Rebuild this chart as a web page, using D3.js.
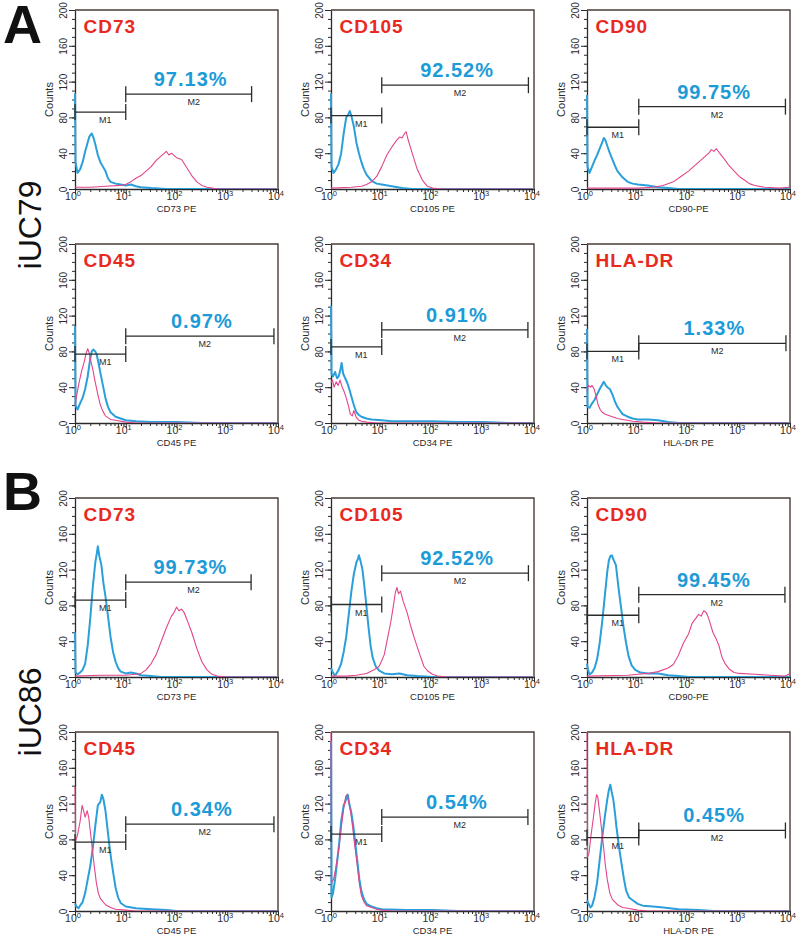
<!DOCTYPE html>
<html><head><meta charset="utf-8">
<script src="https://cdn.jsdelivr.net/npm/d3@7"></script>
<style>
body{margin:0;background:#fff;}
svg{display:block;font-family:"Liberation Sans",Arial,sans-serif;}
</style></head>
<body><svg id="c" width="800" height="942"></svg>
<script>
// ---------- data ----------
const groupLetters = ["A", "B"];
const cellLines = ["iUC79", "iUC86"];
const markers = ["CD73", "CD105", "CD90", "CD45", "CD34", "HLA-DR"];
const axisTitles = ["CD73 PE", "CD105 PE", "CD90-PE", "CD45 PE", "CD34 PE", "HLA-DR PE"];
const percentA = ["97.13%", "92.52%", "99.75%", "0.97%", "0.91%", "1.33%"];
const percentB = ["99.73%", "92.52%", "99.45%", "0.34%", "0.54%", "0.45%"];
// marker gates (counts level, log10 end)
const m1LevelA = [86, 82, 69, 77, 85, 80];
const m2LevelA = [106, 116, 92, 97, 104, 89];
const m1LevelB = [86, 81, 69, 77, 86, 82];
const m2LevelB = [106, 116, 92, 97, 105, 90];
const m1End = [1.0, 1.0, 1.02, 1.0, 1.0, 1.02];
const m2EndA = [3.48, 3.89, 3.91, 3.92, 3.88, 3.92];
const m2EndB = [3.47, 3.89, 3.90, 3.92, 3.88, 3.91];
const yTicks = [0, 40, 80, 120, 160, 200];
const xTicks = [1, 10, 100, 1000, 10000];
const xTickExp = ["0", "1", "2", "3", "4"];

// histograms: [log10 fluorescence, counts]
const a_cd73_blue = [[0,107],[0.01,30],[0.05,18],[0.1,22],[0.15,30],[0.2,42],[0.25,52],[0.28,58],[0.3,60],[0.33,62],[0.36,58],[0.4,50],[0.45,38],[0.5,30],[0.55,25],[0.6,20],[0.65,12],[0.7,8],[0.8,6],[0.9,5],[1.0,4],[1.1,5],[1.2,3],[1.3,2],[1.5,1],[1.8,0],[4,0]];
const a_cd73_pink = [[0,2],[0.3,2],[0.6,3],[0.9,4],[1.0,5],[1.1,8],[1.2,12],[1.3,15],[1.4,20],[1.5,25],[1.6,32],[1.7,37],[1.8,42],[1.85,38],[1.9,40],[2.0,35],[2.1,33],[2.2,24],[2.3,15],[2.4,8],[2.5,4],[2.6,2],[2.7,1],[2.8,0],[4,0]];
const a_cd105_blue = [[0,107],[0.01,25],[0.05,18],[0.1,22],[0.15,28],[0.2,40],[0.25,62],[0.3,80],[0.33,82],[0.37,87],[0.4,82],[0.45,70],[0.5,52],[0.55,40],[0.6,30],[0.65,22],[0.7,16],[0.8,9],[0.9,6],[1.0,5],[1.2,3],[1.4,1],[1.6,0],[4,0]];
const a_cd105_pink = [[0,1],[0.4,2],[0.6,3],[0.7,5],[0.8,8],[0.9,14],[1.0,25],[1.1,38],[1.2,47],[1.3,55],[1.35,58],[1.4,57],[1.45,62],[1.48,64],[1.52,55],[1.6,40],[1.7,22],[1.8,10],[1.9,3],[2.0,1],[2.2,0],[4,0]];
const a_cd90_blue = [[0,105],[0.01,25],[0.05,18],[0.1,25],[0.15,32],[0.2,38],[0.25,45],[0.3,52],[0.33,57],[0.36,55],[0.4,48],[0.45,40],[0.5,33],[0.55,26],[0.6,20],[0.7,13],[0.8,8],[0.9,6],[1.0,5],[1.2,4],[1.4,2],[1.6,1],[1.8,0],[4,0]];
const a_cd90_pink = [[0,1],[1.0,1],[1.3,2],[1.5,4],[1.7,8],[1.85,14],[2.0,20],[2.1,25],[2.2,30],[2.3,35],[2.4,40],[2.45,44],[2.5,42],[2.55,45],[2.6,41],[2.7,34],[2.8,26],[2.9,20],[3.0,14],[3.1,10],[3.2,6],[3.3,4],[3.5,2],[3.8,1],[3.98,2],[4,7]];
const a_cd45_blue = [[0,108],[0.01,20],[0.05,15],[0.1,22],[0.15,28],[0.2,38],[0.25,52],[0.3,72],[0.33,80],[0.36,82],[0.4,80],[0.43,76],[0.47,65],[0.5,56],[0.55,42],[0.6,28],[0.65,18],[0.7,12],[0.8,7],[0.9,5],[1.0,3],[1.2,2],[1.5,1],[2.0,1],[2.5,0],[4,0]];
const a_cd45_pink = [[0,20],[0.03,30],[0.08,45],[0.13,58],[0.18,68],[0.22,78],[0.25,83],[0.28,78],[0.31,70],[0.35,60],[0.4,45],[0.45,32],[0.5,20],[0.55,13],[0.6,8],[0.7,4],[0.8,3],[1.0,1],[1.2,0],[4,0]];
const a_cd34_blue = [[0,131],[0.01,55],[0.04,52],[0.08,57],[0.12,50],[0.15,52],[0.18,58],[0.21,67],[0.24,55],[0.28,50],[0.32,45],[0.36,38],[0.4,30],[0.45,20],[0.5,12],[0.55,9],[0.6,7],[0.7,5],[0.8,4],[1.0,3],[1.2,2],[1.5,2],[2.0,2],[2.5,1],[3.0,1],[3.5,0],[4,0]];
const a_cd34_pink = [[0,45],[0.03,48],[0.06,40],[0.1,46],[0.14,42],[0.18,48],[0.22,40],[0.26,35],[0.3,28],[0.35,18],[0.38,10],[0.42,8],[0.45,14],[0.5,6],[0.55,3],[0.6,2],[0.7,1],[0.9,0],[4,0]];
const a_hla_blue = [[0,105],[0.01,18],[0.05,17],[0.1,22],[0.15,26],[0.2,32],[0.25,38],[0.3,43],[0.33,46],[0.36,43],[0.4,40],[0.45,38],[0.5,32],[0.55,24],[0.6,18],[0.65,14],[0.7,10],[0.8,7],[0.9,5],[1.0,4],[1.2,4],[1.4,3],[1.6,1],[1.8,0],[4,0]];
const a_hla_pink = [[0,35],[0.03,42],[0.07,40],[0.1,42],[0.14,38],[0.18,30],[0.22,20],[0.26,15],[0.3,12],[0.35,10],[0.4,9],[0.5,7],[0.6,5],[0.7,4],[0.8,3],[0.9,2],[1.1,1],[1.4,0],[4,0]];
const b_cd73_blue = [[0,50],[0.01,5],[0.05,3],[0.1,5],[0.15,8],[0.2,15],[0.25,35],[0.3,65],[0.35,100],[0.4,128],[0.43,138],[0.45,146],[0.48,135],[0.52,125],[0.56,105],[0.6,90],[0.65,68],[0.7,45],[0.75,28],[0.8,17],[0.85,10],[0.9,6],[1.0,4],[1.1,5],[1.2,4],[1.3,2],[1.5,1],[1.7,0],[4,0]];
const b_cd73_pink = [[0,1],[0.5,2],[1.0,2],[1.2,3],[1.3,4],[1.4,8],[1.5,15],[1.6,25],[1.7,40],[1.8,55],[1.9,68],[1.95,72],[2.0,78],[2.05,74],[2.1,76],[2.15,72],[2.2,65],[2.3,50],[2.4,32],[2.5,17],[2.6,8],[2.7,3],[2.8,1],[3.0,0],[4,0]];
const b_cd105_blue = [[0,10],[0.03,6],[0.07,2],[0.1,3],[0.15,8],[0.2,15],[0.25,28],[0.3,45],[0.35,70],[0.4,95],[0.45,115],[0.5,128],[0.53,132],[0.55,136],[0.58,130],[0.62,120],[0.66,100],[0.7,78],[0.74,55],[0.78,35],[0.82,22],[0.88,12],[0.95,7],[1.05,4],[1.2,3],[1.35,4],[1.5,2],[1.7,1],[2.0,0],[4,0]];
const b_cd105_pink = [[0,1],[0.3,1],[0.5,2],[0.7,4],[0.85,8],[0.95,12],[1.05,25],[1.12,45],[1.18,62],[1.23,80],[1.27,95],[1.3,100],[1.33,93],[1.37,96],[1.42,85],[1.5,72],[1.58,55],[1.65,42],[1.75,25],[1.83,12],[1.9,7],[2.0,3],[2.1,1],[2.3,0],[4,0]];
const b_cd90_blue = [[0,15],[0.02,8],[0.05,3],[0.1,5],[0.15,10],[0.2,20],[0.25,38],[0.3,62],[0.35,90],[0.4,118],[0.43,130],[0.46,135],[0.49,136],[0.53,130],[0.57,125],[0.62,100],[0.67,78],[0.72,56],[0.77,38],[0.82,23],[0.88,13],[0.95,8],[1.05,5],[1.2,4],[1.4,4],[1.6,2],[1.8,1],[2.0,0],[4,0]];
const b_cd90_pink = [[0,1],[0.8,2],[1.0,3],[1.2,4],[1.4,6],[1.6,10],[1.7,14],[1.8,24],[1.9,38],[2.0,48],[2.07,60],[2.15,66],[2.2,70],[2.25,68],[2.3,74],[2.35,72],[2.4,65],[2.48,50],[2.55,42],[2.6,35],[2.66,22],[2.72,15],[2.8,9],[2.9,5],[3.0,4],[3.3,3],[3.6,2],[3.9,1],[3.98,3],[4,8]];
const b_cd45_blue = [[0,8],[0.03,5],[0.07,3],[0.1,6],[0.15,10],[0.2,20],[0.25,35],[0.3,50],[0.35,70],[0.4,95],[0.45,118],[0.5,122],[0.53,130],[0.56,125],[0.6,112],[0.64,92],[0.68,72],[0.72,55],[0.76,40],[0.8,26],[0.85,15],[0.9,9],[1.0,5],[1.2,3],[1.5,2],[1.8,1],[2.0,0],[4,0]];
const b_cd45_pink = [[0,139],[0.01,78],[0.05,85],[0.1,100],[0.14,118],[0.17,112],[0.2,105],[0.24,112],[0.27,105],[0.3,90],[0.34,70],[0.38,50],[0.42,32],[0.46,20],[0.5,14],[0.6,7],[0.7,4],[0.8,2],[1.0,1],[1.2,0],[4,0]];
const b_cd34_blue = [[0,190],[0.01,15],[0.04,20],[0.08,35],[0.12,55],[0.16,75],[0.2,100],[0.25,118],[0.3,125],[0.33,130],[0.36,120],[0.4,110],[0.44,95],[0.48,75],[0.52,55],[0.56,35],[0.6,22],[0.65,13],[0.7,8],[0.8,5],[0.9,3],[1.0,2],[1.5,1],[2.0,1],[2.5,0],[4,0]];
const b_cd34_pink = [[0,200],[0.01,32],[0.05,35],[0.1,50],[0.15,68],[0.2,92],[0.25,115],[0.29,128],[0.32,130],[0.35,122],[0.39,110],[0.43,92],[0.47,72],[0.52,50],[0.56,30],[0.6,17],[0.65,10],[0.7,6],[0.8,4],[0.9,2],[1.0,1],[1.2,0],[4,0]];
const b_hla_blue = [[0,12],[0.03,8],[0.07,4],[0.1,6],[0.15,16],[0.2,32],[0.25,57],[0.3,82],[0.35,105],[0.4,125],[0.43,135],[0.46,141],[0.49,132],[0.52,124],[0.55,110],[0.58,94],[0.63,72],[0.68,53],[0.73,35],[0.77,23],[0.83,15],[0.9,12],[1.0,8],[1.1,6],[1.3,5],[1.5,4],[1.8,2],[2.2,1],[2.5,0],[4,0]];
const b_hla_pink = [[0,200],[0.01,60],[0.04,65],[0.08,85],[0.12,102],[0.16,120],[0.19,130],[0.21,128],[0.24,115],[0.28,95],[0.32,75],[0.36,52],[0.4,35],[0.45,20],[0.5,13],[0.6,7],[0.7,4],[0.8,3],[1.0,1],[1.2,0],[4,0]];

const blueA = [a_cd73_blue, a_cd105_blue, a_cd90_blue, a_cd45_blue, a_cd34_blue, a_hla_blue];
const pinkA = [a_cd73_pink, a_cd105_pink, a_cd90_pink, a_cd45_pink, a_cd34_pink, a_hla_pink];
const blueB = [b_cd73_blue, b_cd105_blue, b_cd90_blue, b_cd45_blue, b_cd34_blue, b_hla_blue];
const pinkB = [b_cd73_pink, b_cd105_pink, b_cd90_pink, b_cd45_pink, b_cd34_pink, b_hla_pink];

// ---------- layout ----------
const colX = [75, 331, 587];
const rowY = [10, 244, 498, 732];
const W = 203, H = 179;
const C = {blue:"#2a9fda", pink:"#e2458a", title:"#e8291f", pct:"#1d9bd8", frame:"#4a3c36", ink:"#2b2b2b"};

const svg = d3.select("#c");
const x = d3.scaleLog().domain([1, 10000]).range([0, W]);
const y = d3.scaleLinear().domain([0, 200]).range([H, 0]);
const line = d3.line().x(d => x(Math.pow(10, d[0]))).y(d => y(d[1]));

svg.append("defs").append("clipPath").attr("id","clip")
  .append("rect").attr("x",-1).attr("y",-1).attr("width",W+1).attr("height",H+1);

const minorX = [];
for (let e = 0; e < 4; e++) for (let m = 2; m <= 9; m++) minorX.push(m * Math.pow(10, e));
const minorY = d3.range(0, 201, 10);

function panel(px, py, i, blue, pink, pct, m1L, m2L, m2E) {
  const g = svg.append("g").attr("transform", `translate(${px},${py})`);
  // y axis minor + major
  g.append("g").call(d3.axisLeft(y).tickValues(minorY).tickSize(3).tickFormat(""))
    .call(s => s.select(".domain").remove()).selectAll("line").attr("stroke", C.ink);
  const ya = g.append("g").call(d3.axisLeft(y).tickValues(yTicks).tickSize(6).tickSizeOuter(0));
  ya.select(".domain").attr("stroke", C.ink).attr("stroke-width", 1.3);
  ya.selectAll("line").attr("stroke", C.ink);
  ya.selectAll("text").attr("font-size", 10).attr("fill", C.ink)
    .attr("x", 0).attr("dy", 0).attr("text-anchor", "middle")
    .attr("transform", "translate(-8,0) rotate(-90)");
  g.append("text").attr("transform", `translate(-22,${H/2}) rotate(-90)`)
    .attr("text-anchor","middle").attr("font-size", 11).attr("fill", C.ink).text("Counts");
  // x axis
  g.append("g").attr("transform", `translate(0,${H})`)
    .call(d3.axisBottom(x).tickValues(minorX).tickSize(3).tickFormat(""))
    .call(s => s.select(".domain").remove()).selectAll("line").attr("stroke", C.ink);
  const xa = g.append("g").attr("transform", `translate(0,${H})`)
    .call(d3.axisBottom(x).tickValues(xTicks).tickSize(5).tickSizeOuter(0).tickFormat(""));
  xa.select(".domain").attr("stroke", C.ink).attr("stroke-width", 1.3);
  xa.selectAll("line").attr("stroke", C.ink);
  xTicks.forEach((t, k) => {
    const tx = g.append("text").attr("x", x(t) - 2).attr("y", H + 11).attr("text-anchor", "middle")
      .attr("font-size", 10.5).attr("fill", C.ink);
    tx.append("tspan").text("10");
    tx.append("tspan").attr("font-size", 7.5).attr("dy", -4.5).text(xTickExp[k]);
  });
  g.append("text").attr("x", W/2).attr("y", H + 22.5).attr("text-anchor","middle")
    .attr("font-size", 9.5).attr("fill", C.ink).text(axisTitles[i]);
  // frame top/right
  g.append("path").attr("d", `M0,0H${W}V${H}`).attr("fill","none")
    .attr("stroke", C.frame).attr("stroke-width", 1.4);
  // histograms
  const pg = g.append("g").attr("clip-path", "url(#clip)");
  pg.append("path").datum(blue).attr("d", line).attr("fill","none")
    .attr("stroke", C.blue).attr("stroke-width", 2).attr("stroke-linejoin","round");
  pg.append("path").datum(pink).attr("d", line).attr("fill","none")
    .attr("stroke", C.pink).attr("stroke-width", 1.1).attr("stroke-linejoin","round");
  // gates
  const gate = (x0, x1, lv, lab) => {
    const yy = y(lv), a = x(Math.pow(10, x0)), b = x(Math.pow(10, x1));
    const gg = g.append("g").attr("stroke", C.ink).attr("stroke-width", 1.3);
    gg.append("line").attr("x1", a).attr("x2", b).attr("y1", yy).attr("y2", yy);
    gg.append("line").attr("x1", a).attr("x2", a).attr("y1", yy-8).attr("y2", yy+8);
    gg.append("line").attr("x1", b).attr("x2", b).attr("y1", yy-8).attr("y2", yy+8);
    g.append("text").attr("x", (a+b)/2 + 5).attr("y", yy + 11).attr("text-anchor","middle")
      .attr("font-size", 9).attr("fill", C.ink).text(lab);
    return [a, b, yy];
  };
  gate(0, m1End[i], m1L, "M1");
  const [a2, b2, y2] = gate(m1End[i], m2E, m2L, "M2");
  g.append("text").attr("x", (a2+b2)/2 + 2).attr("y", y2 - 8).attr("text-anchor","middle")
    .attr("font-size", 20).attr("font-weight","bold").attr("letter-spacing", 1)
    .attr("fill", C.pct).text(pct);
  g.append("text").attr("x", 8.5).attr("y", 23).attr("font-size", 19).attr("font-weight","bold")
    .attr("letter-spacing", 1).attr("fill", C.title).text(markers[i]);
}

for (let i = 0; i < 6; i++) {
  const c = i % 3, r = Math.floor(i / 3);
  panel(colX[c], rowY[r], i, blueA[i], pinkA[i], percentA[i], m1LevelA[i], m2LevelA[i], m2EndA[i]);
  panel(colX[c], rowY[r + 2], i, blueB[i], pinkB[i], percentB[i], m1LevelB[i], m2LevelB[i], m2EndB[i]);
}

// group letters and cell line labels
svg.append("text").attr("x", 3).attr("y", 43).attr("font-size", 54).attr("font-weight","bold")
  .attr("fill", "#111").text(groupLetters[0]);
svg.append("text").attr("x", 3).attr("y", 510).attr("font-size", 54).attr("font-weight","bold")
  .attr("fill", "#111").text(groupLetters[1]);
svg.append("text").attr("transform", "translate(41,225) rotate(-90)").attr("text-anchor","middle")
  .attr("font-size", 32).attr("fill", "#111").text(cellLines[0]);
svg.append("text").attr("transform", "translate(41,712) rotate(-90)").attr("text-anchor","middle")
  .attr("font-size", 32).attr("fill", "#111").text(cellLines[1]);
</script></body></html>
